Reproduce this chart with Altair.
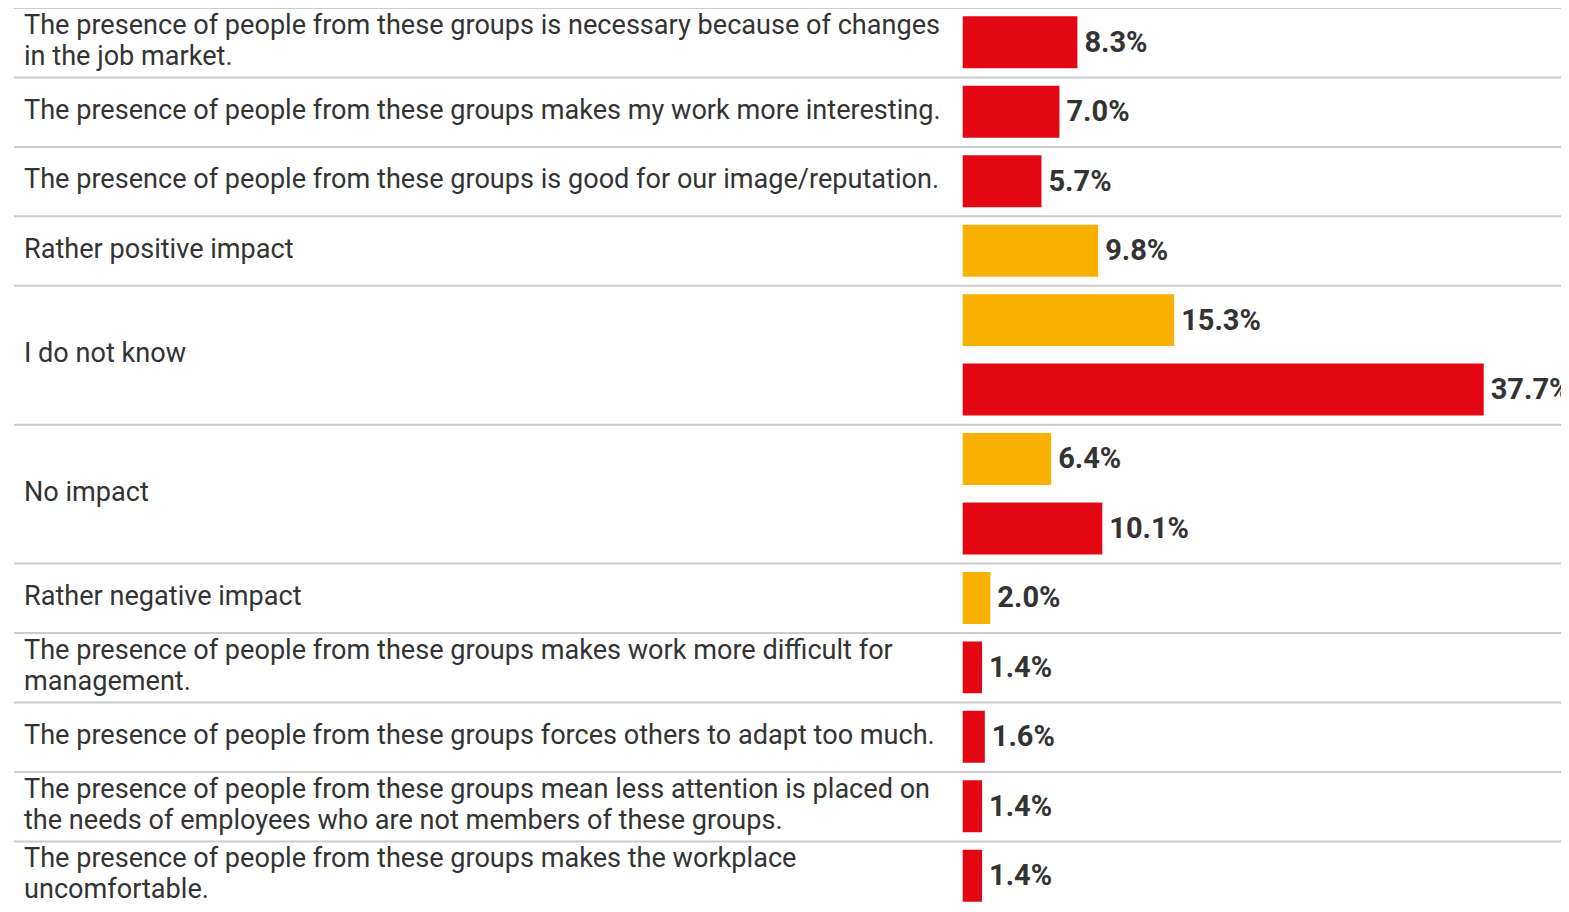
import altair as alt
import pandas as pd

# Category labels (line breaks as in the reference)
categories = [
    "The presence of people from these groups is necessary because of changes\nin the job market.",
    "The presence of people from these groups makes my work more interesting.",
    "The presence of people from these groups is good for our image/reputation.",
    "Rather positive impact",
    "I do not know",
    "No impact",
    "Rather negative impact",
    "The presence of people from these groups makes work more difficult for\nmanagement.",
    "The presence of people from these groups forces others to adapt too much.",
    "The presence of people from these groups mean less attention is placed on\nthe needs of employees who are not members of these groups.",
    "The presence of people from these groups makes the workplace\nuncomfortable.",
]
# Yellow series values (None = no bar)
yellow_values = [None, None, None, 9.8, 15.3, 6.4, 2.0, None, None, None, None]
# Red series values (None = no bar)
red_values = [8.3, 7.0, 5.7, None, 37.7, 10.1, None, 1.4, 1.6, 1.4, 1.4]

YELLOW = "#F9B000"
RED = "#E30613"

STEP = 69.45
LINE_H = 31

bars, labels, seps = [], [], []
slot = 0
for cat, yv, rv in zip(categories, yellow_values, red_values):
    start = slot
    for v, c in ((yv, YELLOW), (rv, RED)):
        if v is not None:
            bars.append({"slot": slot, "value": v, "color": c,
                         "txt": f"{v:.1f}%"})
            slot += 1
    seps.append({"pos": start})
    labels.append({"center": (start + slot) / 2, "label": cat,
                   "nlines": cat.count("\n") + 1})
seps.append({"pos": slot})

bars_df = pd.DataFrame(bars)
labels_df = pd.DataFrame(labels)
seps_df = pd.DataFrame(seps)

W, H = 1553, 896
yscale = alt.Scale(domain=[0, 13], range=[0, 13 * STEP])
xscale = alt.Scale(domain=[0, 100], range=[954.7, 954.7 + 1382])

sep_layer = alt.Chart(seps_df).mark_rule(color="#cccccc", strokeWidth=2).encode(
    y=alt.Y("pos:Q", scale=yscale, axis=None),
    x=alt.value(6),
    x2=alt.value(1570),
)

bar_layer = alt.Chart(bars_df).transform_calculate(
    y0="datum.slot + 0.12", y1="datum.slot + 0.868"
).mark_bar(cornerRadius=0).encode(
    x=alt.X("value:Q", scale=xscale, axis=None),
    x2=alt.datum(0),
    y=alt.Y("y0:Q", scale=yscale, axis=None),
    y2="y1:Q",
    color=alt.Color("color:N", scale=None),
)

val_layer = alt.Chart(bars_df).transform_calculate(
    yc="datum.slot + 0.5"
).mark_text(
    align="left", baseline="middle", dx=7, font="Roboto", fontSize=29,
    fontWeight="bold", color="#333333"
).encode(
    x=alt.X("value:Q", scale=xscale, axis=None),
    y=alt.Y("yc:Q", scale=yscale, axis=None),
    text="txt:N",
)

label_layer = alt.Chart(labels_df).transform_calculate(
    ytop=f"datum.center - (datum.nlines - 1) * {LINE_H / 2} / {STEP} - 0.02"
).mark_text(
    align="left", baseline="middle", font="Roboto", fontSize=27.1,
    color="#333333", lineBreak="\n", lineHeight=LINE_H
).encode(
    x=alt.value(16),
    y=alt.Y("ytop:Q", scale=yscale, axis=None),
    text="label:N",
)

chart = alt.layer(sep_layer, bar_layer, val_layer, label_layer).properties(
    width=W, height=H, padding=0,
    autosize=alt.AutoSizeParams(type="none"),
).configure_view(stroke=None)

chart.save("out.html", embed_options={"renderer": "svg", "actions": False})
